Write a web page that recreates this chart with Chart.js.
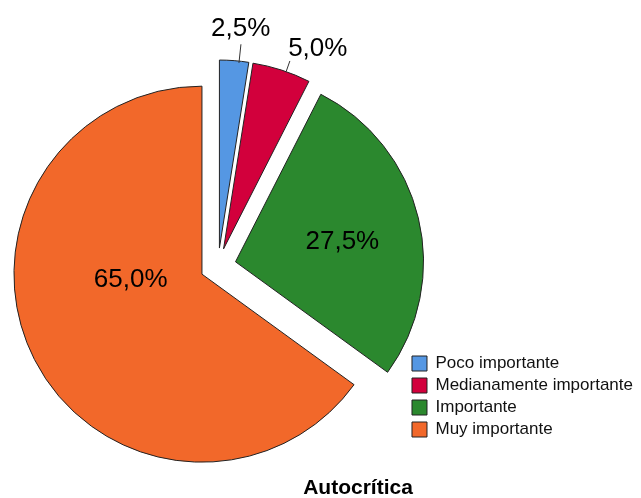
<!DOCTYPE html>
<html lang="es">
<head>
<meta charset="utf-8">
<title>Autocrítica</title>
<script src="https://cdn.jsdelivr.net/npm/chart.js@4"></script>
<style>
  html, body { margin: 0; padding: 0; background: #fff; }
</style>
</head>
<body>
<canvas id="graficoAutocritica" width="641" height="498"></canvas>
<script>
// Datos
const categorias = ["Poco importante", "Medianamente importante", "Importante", "Muy importante"];
const porcentajes = [2.5, 5.0, 27.5, 65.0];
const colores = ["#5597e3", "#d2003c", "#2b882e", "#f2682a"];
const tituloGrafico = "Autocrítica";

// Separación de cada porción respecto al centro (px)
const separacion = 18;

// Etiquetas: fracción del ángulo de la porción y del radio (guia = línea al texto)
const posEtiquetas = [
    { ang: 0.61, rad: 1.18, guia: [0.67, 0.99, 1.09] },
    { ang: 0.89, rad: 1.185, guia: [0.58, 1.0, 1.06] },
    { ang: 0.52, rad: 0.58 },
    { ang: 0.60, rad: 0.38 }
];

const formato = v => v.toFixed(1).replace(".", ",") + "%";

Chart.defaults.font.family = "'Liberation Sans', Arial, sans-serif";

// Separa todas las porciones la misma distancia (sin cambiar el radio)
const separarPlugin = {
    id: "separarPorciones",
    afterDatasetUpdate(chart, args) {
        args.meta.data.forEach(arco => {
            const medio = (arco.startAngle + arco.endAngle) / 2;
            arco.x += Math.cos(medio) * separacion;
            arco.y += Math.sin(medio) * separacion;
        });
    }
};

const etiquetasPlugin = {
    id: "etiquetasPorcion",
    afterDatasetsDraw(chart) {
        const ctx = chart.ctx;
        const meta = chart.getDatasetMeta(0);
        ctx.save();
        ctx.fillStyle = "#000";
        ctx.strokeStyle = "#333";
        ctx.lineWidth = 1;
        ctx.font = "26px 'Liberation Sans', Arial, sans-serif";
        ctx.textAlign = "center";
        ctx.textBaseline = "middle";

        meta.data.forEach((arco, i) => {
            const { x, y, startAngle, endAngle, outerRadius } = arco;
            const p = posEtiquetas[i];

            if (p.guia) {
                const ag = startAngle + p.guia[0] * (endAngle - startAngle);
                ctx.beginPath();
                ctx.moveTo(x + Math.cos(ag) * outerRadius * p.guia[1], y + Math.sin(ag) * outerRadius * p.guia[1]);
                ctx.lineTo(x + Math.cos(ag) * outerRadius * p.guia[2], y + Math.sin(ag) * outerRadius * p.guia[2]);
                ctx.stroke();
            }

            const a = startAngle + p.ang * (endAngle - startAngle);
            ctx.fillText(formato(porcentajes[i]),
                x + Math.cos(a) * outerRadius * p.rad,
                y + Math.sin(a) * outerRadius * p.rad + 1.5);
        });
        ctx.restore();
    },
    afterDraw(chart) {
        const ctx = chart.ctx;
        ctx.save();
        ctx.fillStyle = "#000";
        ctx.font = "bold 21px 'Liberation Sans', Arial, sans-serif";
        ctx.textAlign = "center";
        ctx.textBaseline = "alphabetic";
        ctx.fillText(tituloGrafico, 358, 494);
        ctx.restore();
    }
};

const canvas = document.getElementById("graficoAutocritica");

new Chart(canvas, {
    type: "pie",
    plugins: [separarPlugin, etiquetasPlugin],
    data: {
        labels: categorias,
        datasets: [{
            data: porcentajes,
            backgroundColor: colores,
            borderColor: "#222",
            borderWidth: 1,
            clip: false
        }]
    },
    options: {
        responsive: false,
        animation: false,
        events: [],
        radius: 188,
        layout: {
            padding: { left: 29, right: -2, top: 89, bottom: 55 }
        },
        plugins: {
            legend: {
                position: "right",
                align: "end",
                labels: {
                    boxWidth: 15,
                    boxHeight: 15,
                    padding: 5,
                    color: "#111",
                    font: { size: 17 }
                }
            },
            tooltip: { enabled: false }
        }
    }
});
</script>
</body>
</html>
